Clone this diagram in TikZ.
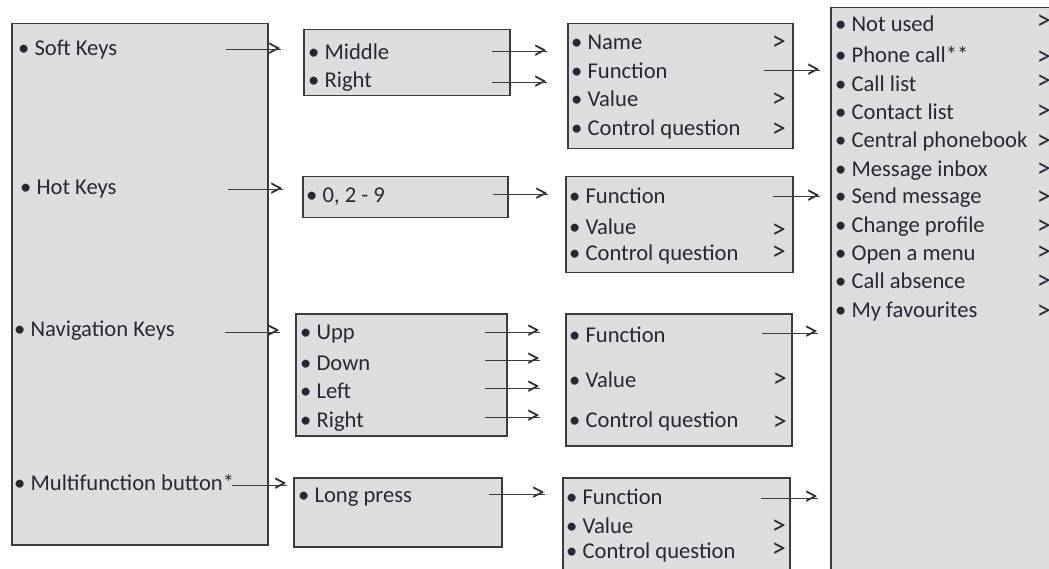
\documentclass[tikz,border=0pt]{standalone}
\usepackage{fontspec}
\setmainfont{Carlito}
\usepackage{tikz}
\usetikzlibrary{positioning}

\definecolor{boxfill}{RGB}{221,221,223}
\definecolor{boxline}{RGB}{60,60,60}
\definecolor{txt}{RGB}{40,40,52}

\begin{document}
\begin{tikzpicture}[x=1pt, y=-1pt, every node/.style={font=\fontsize{22.6}{26}\selectfont}]
		\tikzstyle{panel}=[draw=boxline, fill=boxfill, line width=1.5pt, anchor=north west, inner sep=0pt]
		\tikzstyle{item}=[anchor=base west, inner sep=0pt, text=txt]
		\tikzstyle{gt}=[anchor=east, inner sep=0pt, text=txt, font=\fontsize{28}{30}\selectfont]
		\tikzstyle{link}=[draw=boxline, line width=1pt]

		\clip (0,0) rectangle (1049,569);

    % Keys
		\node[panel, minimum width=256pt, minimum height=521pt](keys) at (11,23){};
		\node[item](soft) at (18,56){\textbullet\ Soft Keys};
		\node[item](hot) at (20,195){\textbullet\ Hot Keys};
		\node[item](nav) at (14,336){\textbullet\ Navigation Keys};
		\node[item](multi) at (14,490){\textbullet\ Multifunction button*};

    % Soft keys
		\node[panel, minimum width=206pt, minimum height=66pt](sk) at (303,29){};
		\node[item](sk1) at (308,60){\textbullet\ Middle};
		\node[item](sk2) at (308,88){\textbullet\ Right};

		\node[panel, minimum width=225pt, minimum height=125pt](skf) at (567,23){};
		\node[item](skf1) at (571,50){\textbullet\ Name};
		\node[item](skf2) at (571,79){\textbullet\ Function};
		\node[item](skf3) at (571,107){\textbullet\ Value};
		\node[item](skf4) at (571,136){\textbullet\ Control question};
		\node[gt](skf1g) at (786,43){>};
		\node[gt](skf3g) at (786,100){>};
		\node[gt](skf4g) at (786,130){>};

    % Hot keys
		\node[panel, minimum width=205pt, minimum height=41pt](hk) at (302,176){};
		\node[item](hk1) at (306,203){\textbullet\ 0, 2 - 9};

		\node[panel, minimum width=227pt, minimum height=96pt](hkf) at (565,176){};
		\node[item](hkf1) at (569,204){\textbullet\ Function};
		\node[item](hkf2) at (569,235){\textbullet\ Value};
		\node[item](hkf3) at (569,261){\textbullet\ Control question};
		\node[gt](hkf2g) at (786,231){>};
		\node[gt](hkf3g) at (786,253){>};

    % Navigation keys
		\node[panel, minimum width=211pt, minimum height=122pt](nk) at (295,313){};
		\node[item](nk1) at (300,339){\textbullet\ Upp};
		\node[item](nk2) at (300,370){\textbullet\ Down};
		\node[item](nk3) at (300,398){\textbullet\ Left};
		\node[item](nk4) at (300,427){\textbullet\ Right};

		\node[panel, minimum width=226pt, minimum height=132pt](nkf) at (565,313){};
		\node[item](nkf1) at (569,342){\textbullet\ Function};
		\node[item](nkf2) at (569,387){\textbullet\ Value};
		\node[item](nkf3) at (569,427){\textbullet\ Control question};
		\node[gt](nkf2g) at (787,380){>};
		\node[gt](nkf3g) at (787,423){>};

    % Multifunction button
		\node[panel, minimum width=208pt, minimum height=69pt](mb) at (293,477){};
		\node[item](mb1) at (298,502){\textbullet\ Long press};

		\node[panel, minimum width=227pt, minimum height=113pt](mbf) at (562,477){};
		\node[item](mbf1) at (566,504){\textbullet\ Function};
		\node[item](mbf2) at (566,533){\textbullet\ Value};
		\node[item](mbf3) at (566,558){\textbullet\ Control question};
		\node[gt](mbf2g) at (786,527){>};
		\node[gt](mbf3g) at (786,550){>};

    % Functions
		\node[panel, minimum width=240pt, minimum height=583pt](fn) at (830,7){};
		\node[item](fn1) at (835,32){\textbullet\ Not used};
		\node[item](fn2) at (835,63){\textbullet\ Phone call**};
		\node[item](fn3) at (835,92){\textbullet\ Call list};
		\node[item](fn4) at (835,120){\textbullet\ Contact list};
		\node[item](fn5) at (835,148){\textbullet\ Central phonebook};
		\node[item](fn6) at (835,177){\textbullet\ Message inbox};
		\node[item](fn7) at (835,204){\textbullet\ Send message};
		\node[item](fn8) at (835,233){\textbullet\ Change profile};
		\node[item](fn9) at (835,261){\textbullet\ Open a menu};
		\node[item](fn10) at (835,289){\textbullet\ Call absence};
		\node[item](fn11) at (835,317){\textbullet\ My favourites};
		\node[gt](fn1g) at (1051,22){>};
		\node[gt](fn2g) at (1051,58){>};
		\node[gt](fn3g) at (1051,82){>};
		\node[gt](fn4g) at (1051,112){>};
		\node[gt](fn5g) at (1051,142){>};
		\node[gt](fn6g) at (1051,170){>};
		\node[gt](fn7g) at (1051,198){>};
		\node[gt](fn8g) at (1051,227){>};
		\node[gt](fn9g) at (1051,253){>};
		\node[gt](fn10g) at (1051,282){>};
		\node[gt](fn11g) at (1051,312){>};

    % Connections
		\coordinate(softs) at (226,50);
		\node[gt](softt) at (281,50){>};
		\draw[link] (softs) -- (softt.east);
		\coordinate(hots) at (228,190);
		\node[gt](hott) at (283,190){>};
		\draw[link] (hots) -- (hott.east);
		\coordinate(navs) at (225,332);
		\node[gt](navt) at (280,332){>};
		\draw[link] (navs) -- (navt.east);
		\coordinate(multis) at (232,485);
		\node[gt](multit) at (287,485){>};
		\draw[link] (multis) -- (multit.east);

		\coordinate(sk1s) at (492,52);
		\node[gt](sk1t) at (547,52){>};
		\draw[link] (sk1s) -- (sk1t.east);
		\coordinate(sk2s) at (492,83);
		\node[gt](sk2t) at (547,83){>};
		\draw[link] (sk2s) -- (sk2t.east);
		\coordinate(hk1s) at (493,195);
		\node[gt](hk1t) at (548,195){>};
		\draw[link] (hk1s) -- (hk1t.east);
		\coordinate(nk1s) at (485,332);
		\node[gt](nk1t) at (540,332){>};
		\draw[link] (nk1s) -- (nk1t.east);
		\coordinate(nk2s) at (485,360);
		\node[gt](nk2t) at (540,360){>};
		\draw[link] (nk2s) -- (nk2t.east);
		\coordinate(nk3s) at (485,388);
		\node[gt](nk3t) at (540,388){>};
		\draw[link] (nk3s) -- (nk3t.east);
		\coordinate(nk4s) at (485,417);
		\node[gt](nk4t) at (540,417){>};
		\draw[link] (nk4s) -- (nk4t.east);
		\coordinate(mb1s) at (489,494);
		\node[gt](mb1t) at (545,494){>};
		\draw[link] (mb1s) -- (mb1t.east);

		\coordinate(skfs) at (764,71);
		\node[gt](skft) at (820,71){>};
		\draw[link] (skfs) -- (skft.east);
		\coordinate(hkfs) at (773,197);
		\node[gt](hkft) at (820,197){>};
		\draw[link] (hkfs) -- (hkft.east);
		\coordinate(nkfs) at (762,333);
		\node[gt](nkft) at (818,333){>};
		\draw[link] (nkfs) -- (nkft.east);
		\coordinate(mbfs) at (761,498);
		\node[gt](mbft) at (818,498){>};
		\draw[link] (mbfs) -- (mbft.east);

  \end{tikzpicture}
\end{document}
